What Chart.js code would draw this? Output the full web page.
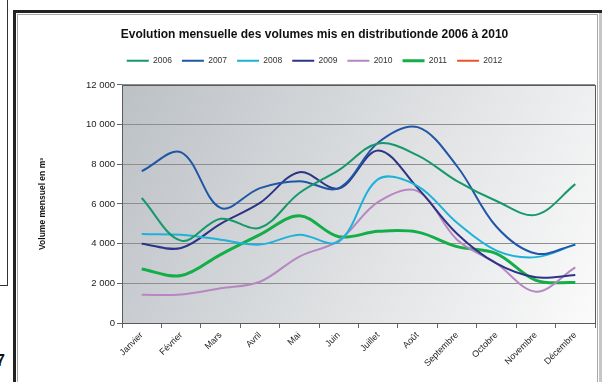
<!DOCTYPE html>
<html lang="fr">
<head>
<meta charset="utf-8">
<title>Evolution mensuelle des volumes mis en distribution</title>
<script src="https://cdn.jsdelivr.net/npm/chart.js@4/dist/chart.umd.min.js"></script>
<style>
  html, body { margin: 0; padding: 0; background: #fff; overflow: hidden; }
  body { width: 602px; height: 382px; position: relative; font-family: "Liberation Sans", Arial, sans-serif; }
  .rule { position: absolute; background: #222; }
  #frame { position: absolute; left: 17px; top: 14px; width: 581px; height: 380px; border: 1px solid #a8a8a8; box-sizing: border-box; }
  #edge { position: absolute; left: 599px; top: 13px; width: 3px; height: 369px; background: #c6c6c6; }
  #sidebox { position: absolute; left: -3px; top: -3px; width: 11px; height: 289px; border: 1.5px solid #333; box-sizing: border-box; }
  #page { position: absolute; left: -4px; top: 352px; font: bold 16px "Liberation Sans", Arial, sans-serif; color: #111; }
  #wrap { position: absolute; left: 18px; top: 15px; width: 580px; height: 367px; }
</style>
</head>
<body>
<div id="sidebox"></div>
<div id="page">7</div>
<div class="rule" style="left:13px; top:10px; width:589px; height:2.5px;"></div>
<div class="rule" style="left:13px; top:10px; width:2.5px; height:372px;"></div>
<div id="frame"></div>
<div id="edge"></div>
<div id="wrap"><canvas id="chart"></canvas></div>
<script>
// Months on the horizontal axis
const months = ['Janvier', 'Février', 'Mars', 'Avril', 'Mai', 'Juin', 'Juillet', 'Août',
                'Septembre', 'Octobre', 'Novembre', 'Décembre'];

// Monthly volumes put into distribution (m³)
const vol2006 = [6300, 4150, 5250, 4800, 6550, 7700, 9050, 8450, 7150, 6150, 5450, 7000];
const vol2007 = [7650, 8600, 5800, 6800, 7150, 6800, 9100, 9870, 7900, 4850, 3500, 3950];
const vol2008 = [4480, 4450, 4200, 3950, 4450, 4100, 7250, 6900, 5050, 3650, 3320, 3950];
const vol2009 = [4000, 3780, 5000, 6050, 7600, 6780, 8700, 6800, 4500, 3000, 2300, 2420];
const vol2010 = [1420, 1440, 1750, 2080, 3350, 4150, 6100, 6650, 4200, 3000, 1580, 2800];
const vol2011 = [2720, 2390, 3450, 4450, 5400, 4350, 4620, 4580, 3850, 3500, 2150, 2040];
const vol2012 = [];

// Vertical axis range and step
const yMin = 0;
const yMax = 12000;
const yStep = 2000;

const fmt = v => String(v).replace(/\B(?=(\d{3})+(?!\d))/g, ' ');

function series(label, data, color, width) {
  return {
    label, data,
    borderColor: color, backgroundColor: color,
    borderWidth: width, pointRadius: 0, pointHoverRadius: 0,
    tension: 0.35, fill: false
  };
}

// Shaded plot background and plot border
const plotFrame = {
  id: 'plotFrame',
  beforeDraw(chart) {
    const { ctx, chartArea: a } = chart;
    const g = ctx.createLinearGradient(a.left, a.top, a.right, a.bottom);
    g.addColorStop(0, '#bcc1c6');
    g.addColorStop(0.55, '#dfe1e3');
    g.addColorStop(1, '#fbfbfb');
    ctx.save();
    ctx.fillStyle = g;
    ctx.fillRect(a.left, a.top, a.right - a.left, a.bottom - a.top);
    ctx.restore();
  },
  beforeDatasetsDraw(chart) {
    const { ctx, chartArea: a } = chart;
    ctx.save();
    ctx.strokeStyle = '#5a5a5a';
    ctx.lineWidth = 1;
    ctx.strokeRect(Math.round(a.left) + 0.5, Math.round(a.top) + 0.5,
                   Math.round(a.right - a.left), Math.round(a.bottom - a.top));
    ctx.restore();
  }
};

// Extra space between the legend and the plot
const legendGap = {
  id: 'legendGap',
  beforeInit(chart) {
    const fit = chart.legend.fit;
    chart.legend.fit = function () {
      fit.call(this);
      this.height += 10;
    };
  }
};

new Chart(document.getElementById('chart'), {
  type: 'line',
  data: {
    labels: months,
    datasets: [
      series('2006', vol2006, '#16986a', 2),
      series('2007', vol2007, '#2056a6', 2),
      series('2008', vol2008, '#1cb2da', 2),
      series('2009', vol2009, '#2b3486', 2),
      series('2010', vol2010, '#b687c2', 2),
      series('2011', vol2011, '#14ae48', 3),
      series('2012', vol2012, '#e8542c', 2)
    ]
  },
  options: {
    responsive: true,
    maintainAspectRatio: false,
    animation: false,
    events: [],
    layout: { padding: { left: 16, right: 3, top: 0, bottom: 0 } },
    plugins: {
      tooltip: { enabled: false },
      title: {
        display: true,
        text: 'Evolution mensuelle des volumes mis en distributionde 2006 à 2010',
        color: '#111',
        font: { family: 'Liberation Sans', size: 12, weight: 'bold' },
        padding: { top: 12, bottom: 5 }
      },
      legend: {
        display: true,
        position: 'top',
        labels: {
          usePointStyle: true,
          pointStyle: 'line',
          pointStyleWidth: 22,
          boxHeight: 8,
          padding: 10,
          color: '#333',
          font: { family: 'Liberation Sans', size: 8.5 }
        }
      }
    },
    scales: {
      x: {
        type: 'category',
        offset: true,
        border: { display: false },
        grid: {
          offset: true,
          drawOnChartArea: false,
          drawTicks: true,
          tickLength: 5,
          tickColor: '#666'
        },
        ticks: {
          minRotation: 45,
          maxRotation: 45,
          autoSkip: false,
          padding: 2,
          color: '#222',
          font: { family: 'Liberation Sans', size: 9 }
        },
        afterFit(scale) { scale.height = 59; }
      },
      y: {
        min: yMin,
        max: yMax,
        border: { display: false },
        grid: {
          color: '#8e8e8e',
          lineWidth: 1,
          drawTicks: true,
          tickLength: 5,
          tickColor: '#666'
        },
        ticks: {
          stepSize: yStep,
          padding: 2,
          color: '#222',
          font: { family: 'Liberation Sans', size: 9.5 },
          callback: v => fmt(v)
        },
        title: {
          display: true,
          text: 'Volume mensuel en m³',
          color: '#111',
          font: { family: 'Liberation Sans', size: 8.5, weight: 'bold' },
          padding: { top: 4, bottom: 0 }
        },
        afterFit(scale) { scale.width = 88; }
      }
    }
  },
  plugins: [plotFrame, legendGap]
});
</script>
</body>
</html>
